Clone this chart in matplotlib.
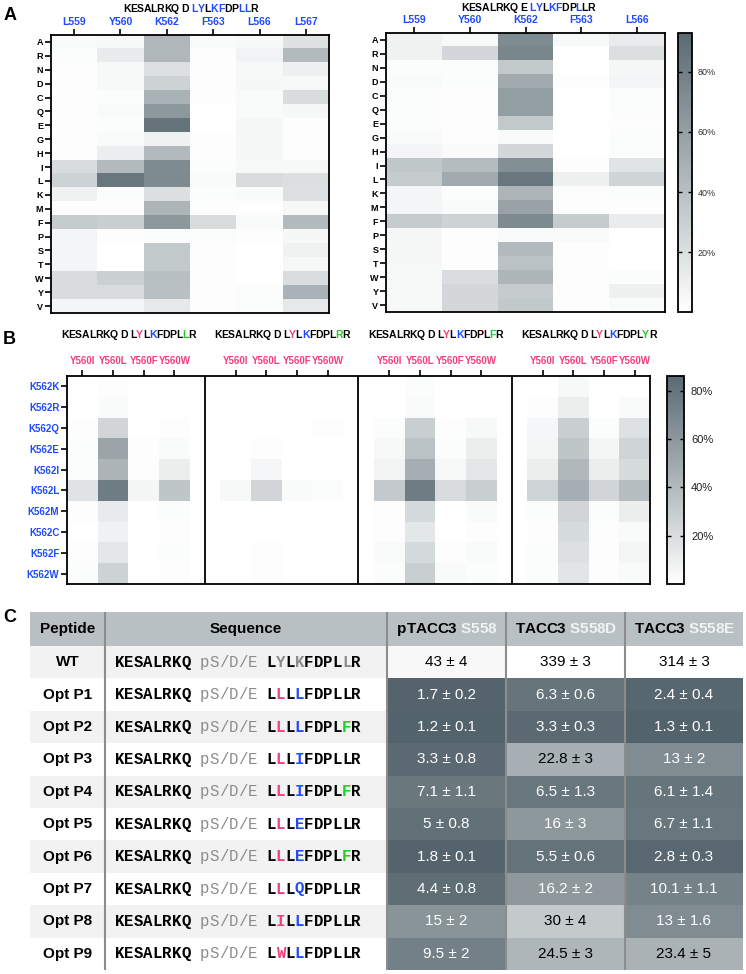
import numpy as np
import matplotlib
matplotlib.use("Agg")
import matplotlib.pyplot as plt
from matplotlib.colors import LinearSegmentedColormap, Normalize
from matplotlib.transforms import IdentityTransform
from matplotlib.font_manager import FontProperties, findfont
from matplotlib.ft2font import FT2Font

plt.rcParams['font.family'] = ['Liberation Sans', 'DejaVu Sans']

W, H = 746, 974
BLUE = '#1f4bff'
PINK = '#f0407a'
GREEN = '#22cc22'
GREY = '#8c8c8c'

# ---------------- panel A data (% of clones) ----------------
aa_rows = ['A', 'R', 'N', 'D', 'C', 'Q', 'E', 'G', 'H', 'I',
           'L', 'K', 'M', 'F', 'P', 'S', 'T', 'W', 'Y', 'V']
a_left_cols = ['L559', 'Y560', 'K562', 'F563', 'L566', 'L567']
a_left = np.array([
    [3, 4, 45, 3, 4, 18],
    [2, 13, 45, 1, 7, 43],
    [1, 4, 19, 1, 4, 10],
    [1, 4, 28, 1, 5, 4],
    [1, 2, 48, 1, 3, 22],
    [1, 3, 64, 0, 3, 5],
    [1, 2, 87, 0, 5, 1],
    [1, 3, 8, 1, 5, 1],
    [1, 11, 43, 1, 5, 1],
    [22, 43, 72, 2, 4, 4],
    [28, 85, 73, 3, 22, 20],
    [8, 2, 20, 2, 3, 19],
    [1, 1, 46, 1, 1, 5],
    [32, 30, 64, 22, 3, 43],
    [6, 1, 2, 2, 1, 5],
    [6, 0, 34, 1, 0, 8],
    [6, 0, 34, 1, 0, 5],
    [22, 29, 40, 1, 0, 21],
    [22, 22, 39, 1, 2, 48],
    [6, 6, 14, 1, 2, 14],
])
a_right_cols = ['L559', 'Y560', 'K562', 'F563', 'L566']
a_right = np.array([
    [8, 4, 72, 4, 12],
    [8, 25, 75, 0, 20],
    [2, 2, 34, 0, 5],
    [3, 2, 53, 1, 6],
    [2, 1, 61, 0, 2],
    [2, 1, 61, 0, 2],
    [2, 1, 34, 0, 1],
    [3, 1, 3, 0, 2],
    [6, 3, 25, 0, 2],
    [35, 42, 70, 1, 17],
    [32, 53, 85, 9, 27],
    [6, 2, 46, 1, 2],
    [6, 3, 58, 1, 1],
    [32, 28, 73, 32, 12],
    [5, 1, 3, 3, 0],
    [5, 1, 43, 1, 0],
    [5, 1, 38, 1, 0],
    [4, 21, 46, 1, 2],
    [4, 25, 32, 1, 9],
    [4, 25, 34, 1, 3],
])

# ---------------- panel B data ----------------
b_rows = ['K562K', 'K562R', 'K562Q', 'K562E', 'K562I',
          'K562L', 'K562M', 'K562C', 'K562F', 'K562W']
b_cols = ['Y560I', 'Y560L', 'Y560F', 'Y560W']
b_l567 = ['L', 'R', 'F', 'Y']
b_block1 = [[0, 1, 0, 0], [0, 3, 0, 0], [1, 24, 0, 1], [2, 52, 1, 3], [2, 43, 1, 10],
            [16, 75, 6, 33], [1, 12, 0, 2], [0, 8, 0, 1], [1, 14, 0, 2], [2, 26, 0, 1]]
b_block2 = [[0, 0, 0, 0], [0, 0, 0, 0], [0, 0, 0, 1], [0, 1, 0, 0], [0, 5, 0, 0],
            [4, 24, 3, 2], [0, 0, 0, 0], [0, 0, 0, 0], [0, 1, 0, 0], [0, 1, 0, 0]]
b_block3 = [[0, 2, 0, 0], [0, 3, 0, 0], [2, 28, 1, 4], [4, 35, 2, 10], [7, 47, 4, 14],
            [31, 75, 20, 28], [1, 22, 0, 3], [1, 14, 0, 1], [3, 22, 1, 3], [2, 28, 3, 2]]
b_block4 = [[0, 4, 0, 0], [1, 10, 0, 3], [5, 28, 2, 17], [6, 33, 6, 25], [10, 41, 10, 21],
            [25, 47, 24, 38], [2, 24, 2, 10], [1, 21, 1, 3], [2, 18, 1, 6], [2, 15, 1, 3]]

# ---------------- panel C data ----------------
peptides = ['WT', 'Opt P1', 'Opt P2', 'Opt P3', 'Opt P4',
            'Opt P5', 'Opt P6', 'Opt P7', 'Opt P8', 'Opt P9']
res560 = ['Y', 'L', 'L', 'L', 'L', 'L', 'L', 'L', 'I', 'W']
res562 = ['K', 'L', 'L', 'I', 'I', 'E', 'E', 'Q', 'L', 'L']
res567 = ['L', 'L', 'F', 'L', 'F', 'L', 'F', 'L', 'L', 'L']
targets = ['pTACC3', 'TACC3', 'TACC3']
target_sites = ['S558', 'S558D', 'S558E']
kd_mean = np.array([[43, 339, 314], [1.7, 6.3, 2.4], [1.2, 3.3, 1.3], [3.3, 22.8, 13],
                    [7.1, 6.5, 6.1], [5, 16, 6.7], [1.8, 5.5, 2.8], [4.4, 16.2, 10.1],
                    [15, 30, 13], [9.5, 24.5, 23.4]])
kd_err = np.array([[4, 3, 3], [0.2, 0.6, 0.4], [0.1, 0.3, 0.1], [0.8, 3, 2],
                   [1.1, 1.3, 1.4], [0.8, 3, 1.1], [0.1, 0.6, 0.3], [0.8, 2, 1.1],
                   [2, 4, 1.6], [2, 3, 5]])


fig = plt.figure(figsize=(W / 100, H / 100), dpi=100)


def px_rect(x0, y0, x1, y1):
    return [x0 / W, 1 - y1 / H, (x1 - x0) / W, (y1 - y0) / H]


def advances(text, fp):
    f = FT2Font(findfont(fp), hinting_factor=1)
    f.set_size(fp.get_size_in_points(), 100)
    return [f.load_char(ord(c)).linearHoriAdvance / 65536 for c in text]


def colored_text(xd, yd, text, colors, fp, ha='center'):
    # xd, yd in display pixels, one text per character
    adv = advances(text, fp)
    x0 = xd - sum(adv) / 2 if ha == 'center' else xd
    pen = np.concatenate([[0], np.cumsum(adv)])
    for i, ch in enumerate(text):
        if ch == ' ':
            continue
        fig.text(x0 + pen[i], yd, ch, color=colors[i], fontproperties=fp,
                 ha='left', va='center', transform=IdentityTransform())


cmap = LinearSegmentedColormap.from_list('wg', ['#ffffff', '#5a6b72'])
cmap.set_bad('white')


def style_heat(ax):
    for s in ax.spines.values():
        s.set_linewidth(1.3)
    ax.tick_params(top=True, bottom=False, labeltop=True, labelbottom=False,
                   length=4, width=1.2, pad=1.5)


# ---------------- panel A ----------------
axA1 = fig.add_axes(px_rect(51, 35, 329, 313))
imA = axA1.imshow(a_left, cmap=cmap, vmin=0, vmax=93, aspect='auto', interpolation='nearest')
axA1.set_xticks(range(len(a_left_cols)))
axA1.set_xticklabels(a_left_cols, color=BLUE, fontweight='bold', fontsize=7.5)
axA1.set_yticks(range(len(aa_rows)))
axA1.set_yticklabels(aa_rows, fontweight='bold', fontsize=6.5)
style_heat(axA1)

axA2 = fig.add_axes(px_rect(386, 33, 665, 312))
axA2.imshow(a_right, cmap=cmap, vmin=0, vmax=93, aspect='auto', interpolation='nearest')
axA2.set_xticks(range(len(a_right_cols)))
axA2.set_xticklabels(a_right_cols, color=BLUE, fontweight='bold', fontsize=7.5)
axA2.set_yticks(range(len(aa_rows)))
axA2.set_yticklabels(aa_rows, fontweight='bold', fontsize=6.5)
style_heat(axA2)

caxA = fig.add_axes(px_rect(678, 33, 692, 312))
cbA = fig.colorbar(imA, cax=caxA)
cbA.set_ticks([20, 40, 60, 80])
cbA.set_ticklabels(['20%', '40%', '60%', '80%'])
cbA.outline.set_linewidth(1.3)
caxA.tick_params(labelsize=6.5, labelcolor='#333333', length=3, width=1,
                 direction='in', left=True, right=True, pad=4)

fp_title = FontProperties(family='Liberation Sans', weight='bold', size=7.5)
K, B = 'black', BLUE
colored_text(190, H - 9, 'KESALRKQ D LYLKFDPLLR',
             [K] * 11 + [B, B, K, B, B, K, K, B, B, K], fp_title)
colored_text(528, H - 8, 'KESALRKQ E LYLKFDPLLR',
             [K] * 11 + [B, B, K, B, B, K, K, B, K, K], fp_title)

# ---------------- panel B ----------------
blocks = [b_block1, b_block2, b_block3, b_block4]
ncol = len(b_cols)
step = ncol + 1
grid = np.full((len(b_rows), step * len(blocks) - 1), np.nan)
for b, blk in enumerate(blocks):
    grid[:, b * step:b * step + ncol] = blk

axB = fig.add_axes(px_rect(67, 376, 650, 584))
imB = axB.imshow(grid, cmap=cmap, vmin=0, vmax=86, aspect='auto', interpolation='nearest',
                 extent=(0, grid.shape[1], len(b_rows), 0))
xt = [b * step + c + 0.5 for b in range(len(blocks)) for c in range(ncol)]
axB.set_xticks(xt)
axB.set_xticklabels(b_cols * len(blocks), color=PINK, fontweight='bold', fontsize=7)
axB.set_yticks(np.arange(len(b_rows)) + 0.5)
axB.set_yticklabels(b_rows, color=BLUE, fontweight='bold', fontsize=7)
style_heat(axB)
axB.tick_params(axis='x', pad=3)
for b in range(len(blocks) - 1):
    axB.axvline(b * step + ncol + 0.5, color='black', lw=1.3)

caxB = fig.add_axes(px_rect(667, 376, 684, 584))
cbB = fig.colorbar(imB, cax=caxB)
cbB.set_ticks([20, 40, 60, 80])
cbB.set_ticklabels(['20%', '40%', '60%', '80%'])
cbB.outline.set_linewidth(1.3)
caxB.tick_params(labelsize=8, labelcolor='#222222', length=3, width=1,
                 direction='in', left=True, right=True, pad=5)

for b, r in enumerate(b_l567):
    xd = axB.transData.transform((b * step + ncol / 2, 0))[0]
    colored_text(xd, H - 335, 'KESALRKQ D LYLKFDPL' + r + 'R',
                 [K] * 12 + [PINK, K, B, K, K, K, K, GREEN, K], fp_title)

# ---------------- panel C (table) ----------------
axC = fig.add_axes(px_rect(30, 612, 743, 970))
axC.set_xlim(0, 713)
axC.set_ylim(358, 0)
axC.axis('off')
col_edges = [0, 75, 357, 476, 595, 713]
head_h, row_h = 34, 32.4
row_edges = head_h + row_h * np.arange(len(peptides) + 1)

axC.fill_between([0, 713], 0, head_h, color='#b9c0c3', lw=0)
for i in range(len(peptides)):
    if i % 2 == 0:
        axC.fill_between([0, col_edges[2]], row_edges[i], row_edges[i + 1], color='#f2f2f2', lw=0)

kd_norm = Normalize(vmin=1, vmax=45, clip=True)
kd_cmap = LinearSegmentedColormap.from_list('kd', ['#52626a', '#ffffff'])
axC.pcolormesh(col_edges[2:], row_edges, kd_mean, cmap=kd_cmap, norm=kd_norm)

for x in col_edges[1:-1]:
    axC.plot([x, x], [0, 358], color='#8c8c8c', lw=1.5, solid_capstyle='butt')

fs_tab = 11
axC.text(37.5, head_h / 2, 'Peptide', ha='center', va='center', fontweight='bold', fontsize=fs_tab)
axC.text((col_edges[1] + col_edges[2]) / 2, head_h / 2, 'Sequence', ha='center', va='center',
         fontweight='bold', fontsize=fs_tab)
fp_head = FontProperties(family='Liberation Sans', weight='bold', size=fs_tab)
for j, (tg, st) in enumerate(zip(targets, target_sites)):
    xd, yd = axC.transData.transform(((col_edges[j + 2] + col_edges[j + 3]) / 2, head_h / 2))
    s = tg + ' ' + st
    colored_text(xd, yd, s, ['black'] * (len(tg) + 1) + ['#f0f3f4'] * len(st), fp_head)

pitch = 9.46
seq_x0 = 85
mono_fs = pitch / 0.6 * 72 / 100
for i, name in enumerate(peptides):
    yc = (row_edges[i] + row_edges[i + 1]) / 2
    axC.text(37.5, yc, name, ha='center', va='center', fontweight='bold', fontsize=fs_tab)
    tail = 'L' + res560[i] + 'L' + res562[i] + 'FDPL' + res567[i] + 'R'
    seq = 'KESALRKQ pS/D/E ' + tail
    if i == 0:
        tail_c = ['black', GREY, 'black', GREY, 'black', 'black', 'black', 'black', GREY, 'black']
    else:
        tail_c = ['black', PINK, 'black', BLUE, 'black', 'black', 'black', 'black',
                  GREEN if res567[i] != 'L' else 'black', 'black']
    cols = ['black'] * 9 + [GREY] * 7 + tail_c
    for k, ch in enumerate(seq):
        if ch == ' ':
            continue
        wt = 'normal' if 9 <= k < 15 else 'bold'
        axC.text(seq_x0 + (k + 0.5) * pitch, yc, ch, ha='center', va='center',
                 family='Liberation Mono', fontweight=wt, fontsize=mono_fs, color=cols[k])
    for j in range(3):
        m, e = kd_mean[i, j], kd_err[i, j]
        tc = 'black' if kd_norm(m) > 0.45 else 'white'
        axC.text((col_edges[j + 2] + col_edges[j + 3]) / 2, yc, f'{m:g} ± {e:g}',
                 ha='center', va='center', fontsize=fs_tab, color=tc)

# panel letters
for lab, x, y in [('A', 10, 15), ('B', 9, 339), ('C', 10, 617)]:
    fig.text(x / W, 1 - y / H, lab, ha='center', va='center', fontweight='bold', fontsize=13)

fig.savefig('out.png', dpi=100)
